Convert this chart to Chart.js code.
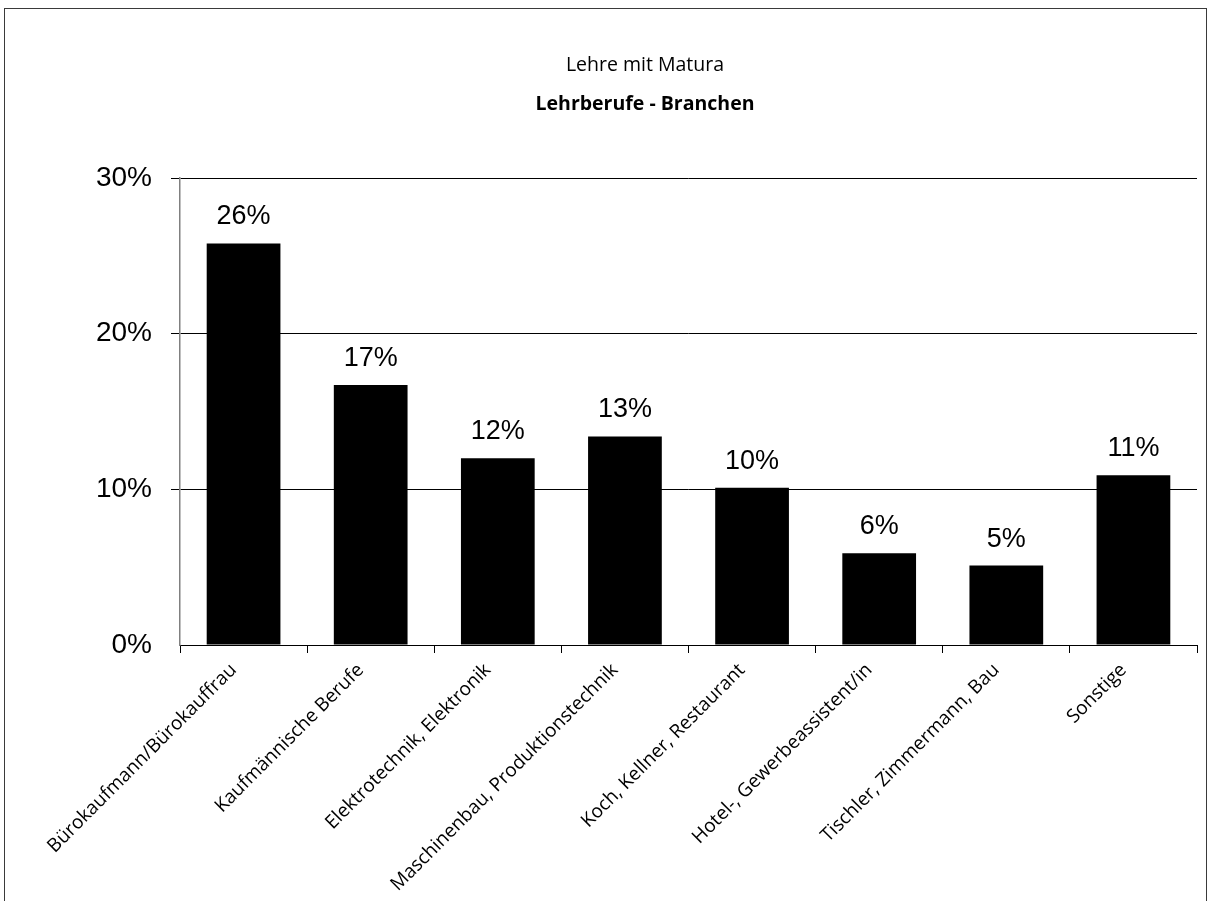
<!DOCTYPE html>
<html>
<head>
<meta charset="utf-8">
<script src="https://cdn.jsdelivr.net/npm/chart.js@4/dist/chart.umd.min.js"></script>
<style>
  html, body { margin: 0; padding: 0; overflow: hidden; background: #fff; }
  #wrap { position: absolute; left: 0; top: 0; width: 1213px; height: 901px; }
  #frame { position: absolute; left: 4px; top: 8px; width: 1203px; height: 1000px; border: 1.5px solid #3a3a3a; box-sizing: border-box; pointer-events: none; }
</style>
</head>
<body>
<div id="wrap">
  <canvas id="c" width="1213" height="901"></canvas>
  <div id="frame"></div>
</div>
<script>
const categories = [
  "Bürokaufmann/Bürokauffrau",
  "Kaufmännische Berufe",
  "Elektrotechnik, Elektronik",
  "Maschinenbau, Produktionstechnik",
  "Koch, Kellner, Restaurant",
  "Hotel-, Gewerbeassistent/in",
  "Tischler, Zimmermann, Bau",
  "Sonstige"
];
const shares = [25.8, 16.7, 12.0, 13.4, 10.1, 5.9, 5.1, 10.9];
const yTicks = [0, 10, 20, 30];
const titleText = "Lehre mit Matura";
const subtitleText = "Lehrberufe - Branchen";

const titles = {
  id: 'titles',
  afterDraw(chart) {
    const ctx = chart.ctx;
    const cx = 645;
    ctx.save();
    ctx.fillStyle = '#000';
    ctx.textAlign = 'center';
    ctx.textBaseline = 'middle';
    ctx.font = '19.5px "Open Sans", sans-serif';
    ctx.fillText(titleText, cx, 65);
    ctx.font = 'bold 19.5px "Open Sans", sans-serif';
    ctx.fillText(subtitleText, cx, 104);
    ctx.restore();
  }
};

const valueLabels = {
  id: 'valueLabels',
  afterDatasetsDraw(chart) {
    const ctx = chart.ctx;
    const meta = chart.getDatasetMeta(0);
    ctx.save();
    ctx.font = '27px "Liberation Sans", Arial, sans-serif';
    ctx.fillStyle = '#000';
    ctx.textAlign = 'center';
    ctx.textBaseline = 'bottom';
    meta.data.forEach((bar, i) => {
      ctx.fillText(Math.round(shares[i]) + '%', bar.x, bar.y - 13);
    });
    ctx.restore();
  }
};

new Chart(document.getElementById('c'), {
  type: 'bar',
  data: {
    labels: categories,
    datasets: [{
      data: shares,
      backgroundColor: '#000',
      borderWidth: 0,
      barPercentage: 0.58,
      categoryPercentage: 1.0
    }]
  },
  options: {
    responsive: false,
    animation: false,
    layout: { padding: { top: 178, right: 16, left: 0, bottom: 0 } },
    plugins: {
      legend: { display: false },
      tooltip: { enabled: false },
      title: { display: false },
      subtitle: { display: false }
    },
    scales: {
      x: {
        offset: true,
        grid: {
          offset: true,
          drawOnChartArea: false,
          drawTicks: true,
          tickLength: 8,
          color: '#000'
        },
        border: { color: '#000', width: 1 },
        ticks: {
          maxRotation: 45,
          minRotation: 45,
          autoSkip: false,
          color: '#000',
          padding: 6,
          labelOffset: -10,
          font: { family: '"Open Sans", sans-serif', size: 19 }
        },
        afterFit(scale) { scale.height = 256; }
      },
      y: {
        min: 0,
        max: 30,
        afterBuildTicks(scale) { scale.ticks = yTicks.map(v => ({ value: v })); },
        grid: {
          color: (c) => c.tick && c.tick.value === 0 ? 'rgba(0,0,0,0)' : '#000',
          drawTicks: true,
          tickLength: 9,
          lineWidth: 1
        },
        border: { color: '#808080', width: 1.5 },
        ticks: {
          color: '#000',
          padding: 19,
          font: { family: '"Liberation Sans", Arial, sans-serif', size: 28 },
          callback: (v) => v + '%'
        },
        afterFit(scale) { scale.width = 180; }
      }
    }
  },
  plugins: [valueLabels, titles]
});
</script>
</body>
</html>
